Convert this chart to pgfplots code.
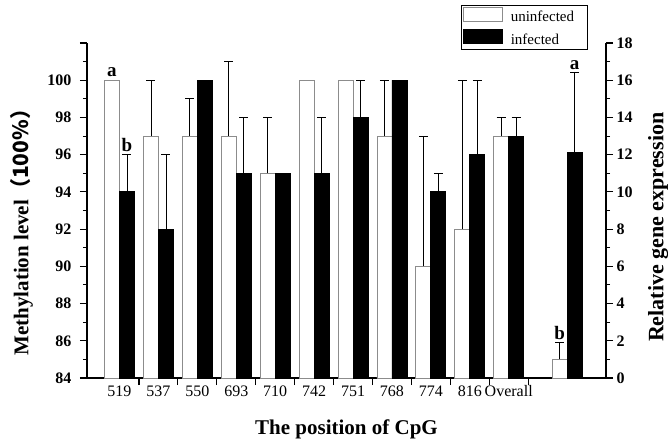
\documentclass[border=0pt]{standalone}
\usepackage{fontspec}
\setmainfont{Liberation Serif}
\newfontfamily\cjk{Noto Sans CJK SC}
\usepackage{pgfplots}
\pgfplotsset{compat=1.18}
\tikzset{letter/.style={font=\bfseries\fontsize{19}{19}\selectfont, anchor=south, inner sep=1pt}}

\begin{document}
\begin{tikzpicture}
\pgfplotsset{
  common/.style={
    scale only axis, width=519pt, height=335pt,
    xmin=0.165, xmax=13.5,
    axis line style={line width=1.1pt},
    every tick/.style={line width=1.1pt, black},
    tick align=outside, major tick length=7pt, minor tick length=4pt,
    /pgf/number format/assume math mode=true,
    ybar=0pt, bar width=15pt,
    yticklabel style={font=\bfseries\fontsize{16}{16}\selectfont},
  },
  ubar/.style={fill=white, draw=black!45, line width=0.8pt, bar shift=-7.5pt},
  ibar/.style={fill=black, draw=black, line width=0.8pt, bar shift=7.5pt},
  errs/.style={draw=none, fill=none, forget plot, bar shift=#1,
    error bars/.cd, y dir=plus, y explicit,
    error bar style={draw=black, line width=0.8pt},
    error mark options={draw=black, line width=0.8pt, mark size=4.5pt, rotate=90}},
}
\begin{axis}[common, name=ax,
  ymin=84, ymax=102,
  axis x line*=bottom, axis y line*=left,
  ytick={84,86,...,102}, yticklabels={84,86,88,90,92,94,96,98,100,{}},
  yticklabel style={xshift=-5pt},
  minor y tick num=1,
  xtick={1.5,2.5,...,11.5}, xticklabels={},
  extra x ticks={1,2,...,11},
  extra x tick labels={519,537,550,693,710,742,751,768,774,816,Overall},
  extra x tick style={major tick length=0pt,
    tick label style={font=\fontsize{16}{16}\selectfont, yshift=-4pt}},
  xlabel={The position of CpG},
  every axis x label/.style={at={(axis description cs:0.5,0)}, anchor=north,
    yshift=-42pt, inner sep=0pt, font=\bfseries\fontsize{21}{21}\selectfont},
  ylabel={Methylation level\cjk{（}100\%\cjk{）}},
  every axis y label/.style={at={(axis description cs:0,0.45)}, xshift=-54pt,
    rotate=90, anchor=south, inner sep=0pt, font=\bfseries\fontsize{21}{21}\selectfont},
  legend style={at={(1,1)}, anchor=north east, xshift=-18pt, yshift=38pt,
    draw=black, line width=0.8pt, font=\fontsize{15}{15}\selectfont,
    inner sep=1.5pt, row sep=4pt, column sep=6pt, cells={anchor=west}},
]
\addlegendimage{legend image code/.code={\draw[fill=white, draw=black!45, line width=0.8pt] (0pt,-4pt) rectangle (39pt,10pt);}}
\addlegendentry{uninfected\kern10pt}
\addlegendimage{legend image code/.code={\draw[fill=black, draw=black] (0pt,-4pt) rectangle (39pt,10pt);}}
\addlegendentry{infected}

% uninfected
\addplot[ubar, forget plot] coordinates {
  (1,100) (2,97) (3,97) (4,97) (5,95) (6,100) (7,100) (8,97) (9,90) (10,92) (11,97)};
\addplot[errs=-7.5pt] coordinates {
  (2,97) +- (0,3) (3,97) +- (0,2) (4,97) +- (0,4) (5,95) +- (0,3)
  (8,97) +- (0,3) (9,90) +- (0,7) (10,92) +- (0,8) (11,97) +- (0,1)};
% infected
\addplot[ibar, forget plot] coordinates {
  (1,94) (2,92) (3,100) (4,95) (5,95) (6,95) (7,98) (8,100) (9,94) (10,96) (11,97)};
\addplot[errs=7.5pt] coordinates {
  (1,94) +- (0,2) (2,92) +- (0,4) (4,95) +- (0,3) (6,95) +- (0,3)
  (7,98) +- (0,2) (9,94) +- (0,1) (10,96) +- (0,4) (11,97) +- (0,1)};

\node[letter, xshift=-7.5pt] at (axis cs:1,100.1) {a};
\node[letter, xshift=7.5pt] at (axis cs:1,96.1) {b};
\end{axis}

\begin{axis}[common,
  ymin=0, ymax=18,
  axis y line*=right, axis x line=none,
  ytick={0,2,...,18}, minor y tick num=1,
  ylabel={Relative gene expression},
  every axis y label/.style={at={(axis description cs:1,0.45)}, xshift=42pt,
    rotate=90, anchor=north, inner sep=0pt, font=\bfseries\fontsize{22}{22}\selectfont},
]
\addplot[ubar, forget plot] coordinates {(12.5,1.0)};
\addplot[errs=-7.5pt] coordinates {(12.5,1.0) +- (0,0.9)};
\addplot[ibar, forget plot] coordinates {(12.5,12.1)};
\addplot[errs=7.5pt] coordinates {(12.5,12.1) +- (0,4.3)};
\node[letter, xshift=7.5pt] at (axis cs:12.5,16.5) {a};
\node[letter, xshift=-7.5pt] at (axis cs:12.5,2.0) {b};
\end{axis}

\pgfresetboundingbox
\path ([shift={(-87pt,-66pt)}]ax.south west) rectangle ([shift={(62pt,43pt)}]ax.north east);
\end{tikzpicture}
\end{document}
